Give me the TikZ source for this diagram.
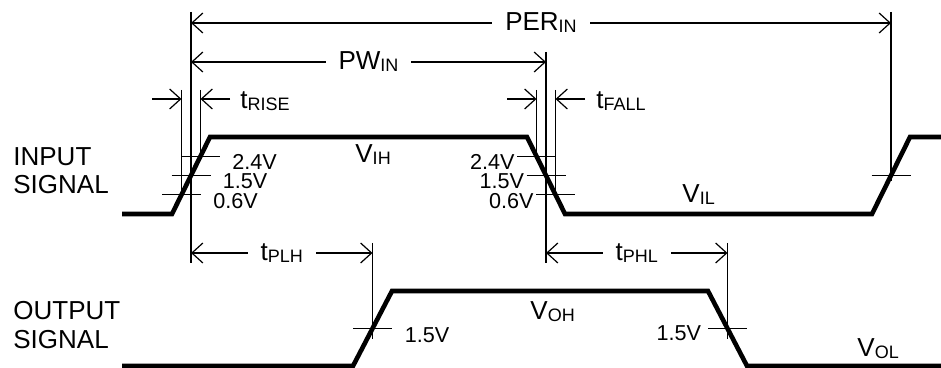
\documentclass[tikz,border=0pt]{standalone}
\usepackage{fontspec}
\setmainfont{Liberation Sans}
\usetikzlibrary{arrows.meta,calc}

\newcommand{\sublbl}[2]{#1\raisebox{-1pt}{\fontsize{9}{10}\selectfont #2}}

\begin{document}
\begin{tikzpicture}[x=0.5pt,y=-0.5pt,
		>={Straight Barb[length=5.5pt,width=10pt]},
		wave/.style={line width=2.3pt},
		dimline/.style={line width=0.6pt},
		bigtxt/.style={font=\fontsize{13}{15}\selectfont,inner sep=0pt},
		volttxt/.style={font=\fontsize{10.8}{12}\selectfont,inner sep=0pt},
		gap/.style={bigtxt,fill=white,inner xsep=6.5pt}]
		\useasboundingbox (0,0) rectangle (941,368);
		% input signal
		\coordinate (in0) at (122,214);
		\coordinate (r0) at (172,214);
		\coordinate (r1) at (210,137);
		\coordinate (f0) at (527,137);
		\coordinate (f1) at (565,214);
		\coordinate (r2) at (872,214);
		\coordinate (r3) at (910,137);
		\coordinate (in1) at (950,137);
		\draw[wave] (in0) -- (r0) -- (r1) -- (f0) -- (f1) -- (r2) -- (r3) -- (in1);
		% output signal
		\coordinate (out0) at (122,366);
		\coordinate (o0) at (353,366);
		\coordinate (o1) at (392,291);
		\coordinate (o2) at (708,291);
		\coordinate (o3) at (747,366);
		\coordinate (out1) at (950,366);
		\draw[wave] (out0) -- (o0) -- (o1) -- (o2) -- (o3) -- (out1);
		% threshold points
		\coordinate (rA) at ($(r0)!.25!(r1)$);
		\coordinate (rB) at ($(r0)!.5!(r1)$);
		\coordinate (rC) at ($(r0)!.75!(r1)$);
		\coordinate (fC) at ($(f0)!.25!(f1)$);
		\coordinate (fB) at ($(f0)!.5!(f1)$);
		\coordinate (fA) at ($(f0)!.75!(f1)$);
		\coordinate (rD) at ($(r2)!.5!(r3)$);
		\coordinate (oB) at ($(o0)!.5!(o1)$);
		\coordinate (oF) at ($(o2)!.5!(o3)$);
		% ticks
		\foreach \p in {rA,rB,rC,fA,fB,fC,rD,oB,oF}
		\draw[dimline] ([xshift=-9.75pt]\p) -- ([xshift=9.75pt]\p);
		% timing lines
		\draw[dimline] (rB |- 0,12) -- (rB |- 0,263);
		\draw[dimline] (fB |- 0,52) -- (fB |- 0,263);
		\draw[dimline] (rD |- 0,12) -- ($(rD)+(0,6)$);
		\draw[dimline] (rA |- 0,90) -- ($(rA)+(0,4)$);
		\draw[dimline] (rC |- 0,90) -- (rC);
		\draw[dimline] (fC |- 0,90) -- (fC);
		\draw[dimline] (fA |- 0,90) -- ($(fA)+(0,4)$);
		\draw[dimline] (oB |- 0,243) -- ($(oB)+(0,11)$);
		\draw[dimline] (oF |- 0,243) -- ($(oF)+(0,11)$);
		% arrows
		\coordinate (perL) at (rB |- 0,23);
		\coordinate (perR) at (rD |- 0,23);
		\coordinate (pwL) at (rB |- 0,62);
		\coordinate (pwR) at (fB |- 0,62);
		\coordinate (plhL) at (rB |- 0,253);
		\coordinate (plhR) at (oB |- 0,253);
		\coordinate (phlL) at (fB |- 0,253);
		\coordinate (phlR) at (oF |- 0,253);
		\draw[dimline,<->] (perL) -- (perR) node[midway,gap] {\sublbl{PER}{IN}};
		\draw[dimline,<->] (pwL) -- (pwR) node[midway,gap] {\sublbl{PW}{IN}};
		\draw[dimline,<->] (plhL) -- (plhR) node[midway,gap] {\sublbl{t}{PLH}};
		\draw[dimline,<->] (phlL) -- (phlR) node[midway,gap] {\sublbl{t}{PHL}};
		\coordinate (riseA) at (152,99);
		\coordinate (riseB) at (230,99);
		\coordinate (fallA) at (507,99);
		\coordinate (fallB) at (585,99);
		\draw[dimline,->] (riseA) -- (rA |- riseA);
		\draw[dimline,->] (riseB) -- (rC |- riseB);
		\draw[dimline,->] (fallA) -- (fC |- fallA);
		\draw[dimline,->] (fallB) -- (fA |- fallB);
		\node[bigtxt,anchor=west] (trise) at (240,101) {\sublbl{t}{RISE}};
		\node[bigtxt,anchor=west] (tfall) at (596,101) {\sublbl{t}{FALL}};
		% voltage labels
		\node[volttxt,anchor=north west] (vr24) at ($(rC)+(31.5,-2)$) {2.4V};
		\node[volttxt,anchor=north west] (vr15) at ($(rB)+(31.5,-2)$) {1.5V};
		\node[volttxt,anchor=north west] (vr06) at ($(rA)+(31.5,-2)$) {0.6V};
		\node[volttxt,anchor=north east] (vf24) at ($(fC)+(-21.5,-2)$) {2.4V};
		\node[volttxt,anchor=north east] (vf15) at ($(fB)+(-21.5,-2)$) {1.5V};
		\node[volttxt,anchor=north east] (vf06) at ($(fA)+(-21.5,-2)$) {0.6V};
		\node[volttxt,anchor=north west] (vo15r) at ($(oB)+(32,-1)$) {1.5V};
		\node[volttxt,anchor=north east] (vo15f) at ($(oF)+(-26,-3)$) {1.5V};
		% levels
		\node[bigtxt,anchor=base west] (vih) at (355,163) {\sublbl{V}{IH}};
		\node[bigtxt,anchor=base west] (vil) at (682,203) {\sublbl{V}{IL}};
		\node[bigtxt,anchor=base west] (voh) at (530,320) {\sublbl{V}{OH}};
		\node[bigtxt,anchor=base west] (vol) at (857,357) {\sublbl{V}{OL}};
		% text
		\node[bigtxt,anchor=base west] (inA) at (13,166) {INPUT};
		\node[bigtxt,anchor=base west] (inB) at (13,194) {SIGNAL};
		\node[bigtxt,anchor=base west] (outA) at (13,320) {OUTPUT};
		\node[bigtxt,anchor=base west] (outB) at (13,349) {SIGNAL};
	\end{tikzpicture}
\end{document}
